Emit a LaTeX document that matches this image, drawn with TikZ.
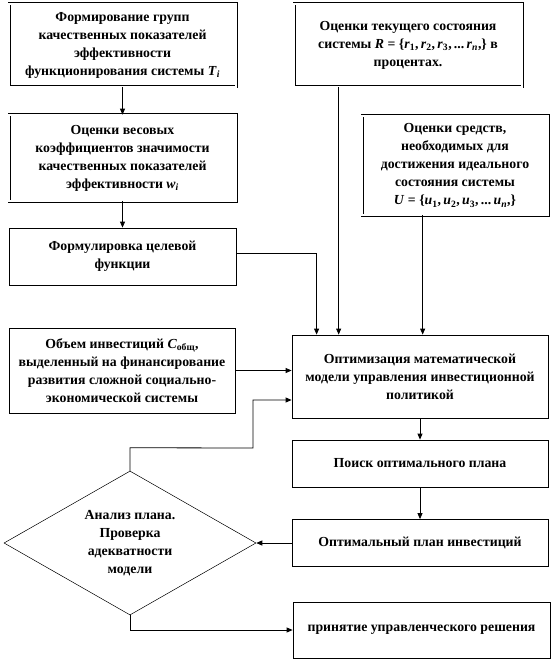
\documentclass[tikz,border=0pt]{standalone}
\usepackage{fontspec}
\setmainfont{Liberation Serif}
\usetikzlibrary{arrows.meta,shapes.geometric}
\newcommand{\iv}[1]{\textit{#1}}
\newcommand{\ivs}[2]{\textit{#1}\textsubscript{\textit{#2}}}
\newcommand{\ivn}[2]{\textit{#1}\textsubscript{#2}}
\begin{document}
\begin{tikzpicture}[x=1pt,y=-1pt,
  txt/.style={align=center,font=\fontsize{13.8}{18}\selectfont\bfseries},
  box/.style={txt,draw,line width=0.8pt,rectangle,inner sep=2pt},
  dbox/.style={box,double,double distance=1.6pt,line width=0.7pt},
  arr/.style={-{Triangle[length=6pt,width=5pt]},line width=0.8pt},
]
\useasboundingbox (0,0) rectangle (554,663);

\node[dbox,minimum width=227pt,minimum height=83pt] (b1) at (122.5,45.5)
  {Формирование групп\\качественных показателей\\эффективности\\функционирования системы \ivs{T}{i}};
\node[dbox,minimum width=227pt,minimum height=86pt] (b2) at (122.5,158)
  {Оценки весовых\\коэффициентов значимости\\качественных показателей\\эффективности \ivs{w}{i}};
\node[box,minimum width=227pt,minimum height=57pt] (b3) at (122.5,256.5)
  {Формулировка целевой\\функции};
\node[box,minimum width=226pt,minimum height=85pt] (b4) at (122,370.5)
  {Объем инвестиций \ivn{C}{общ},\\выделенный на финансирование\\развития сложной социально-\\экономической системы};
\node[dbox,minimum width=228pt,minimum height=83pt] (r) at (408,45.5)
  {Оценки текущего состояния\\системы \iv{R} = \{\ivn{r}{1},\,\ivn{r}{2},\,\ivn{r}{3},\,...\,\ivs{r}{n},\} в\\процентах.};
\node[dbox,minimum width=186pt,minimum height=99pt] (u) at (455,165.5)
  {Оценки средств,\\необходимых для\\достижения идеального\\состояния системы\\\iv{U} = \{\ivn{u}{1},\,\ivn{u}{2},\,\ivn{u}{3},\,...\,\ivs{u}{n},\}};
\node[box,minimum width=256pt,minimum height=83pt] (opt) at (420,376.5)
  {Оптимизация математической\\модели управления инвестиционной\\политикой};
\node[box,minimum width=256pt,minimum height=47pt] (poisk) at (420,463.5)
  {Поиск оптимального плана};
\node[box,minimum width=256pt,minimum height=47pt] (plan) at (420,543)
  {Оптимальный план инвестиций};
\node[txt,draw,line width=0.5pt,shape=diamond,aspect=1.75,inner sep=0pt,
      minimum width=252pt,minimum height=144pt] (dia) at (130,543)
  {Анализ плана.\\Проверка\\адекватности\\модели};
\node[box,minimum width=257pt,minimum height=56pt] (prin) at (421.5,630)
  {принятие управленческого решения};

\coordinate (b3e) at ([yshift=3.5pt]b3.east);
\coordinate (ot1) at ([xshift=25pt]opt.north west);
\coordinate (rb) at ([xshift=45pt]r.south west);
\coordinate (ub) at ([xshift=61pt]u.south west);
\coordinate (fb1) at ([yshift=23pt]dia.north);
\coordinate (fb2) at (253,448);
\coordinate (fbt) at ([yshift=-23.5pt]opt.west);

\draw[arr] (b1) -- (b2);
\draw[arr] (b2) -- (b3);
\draw[arr] (b3e) -| (ot1);
\draw[arr] (rb) -- (rb |- opt.north);
\draw[arr] (ub) -- (ub |- opt.north);
\draw[arr] (b4.east) -- (b4.east -| opt.west);
\draw[arr] (dia.north) -- (fb1) -- (fb2) -- (fb2 |- fbt) -- (fbt);
\draw[arr] (opt) -- (poisk);
\draw[arr] (poisk) -- (plan);
\draw[arr] (plan.west) -- (dia.east);
\draw[arr] (dia.south) |- (prin.west);
\end{tikzpicture}
\end{document}
